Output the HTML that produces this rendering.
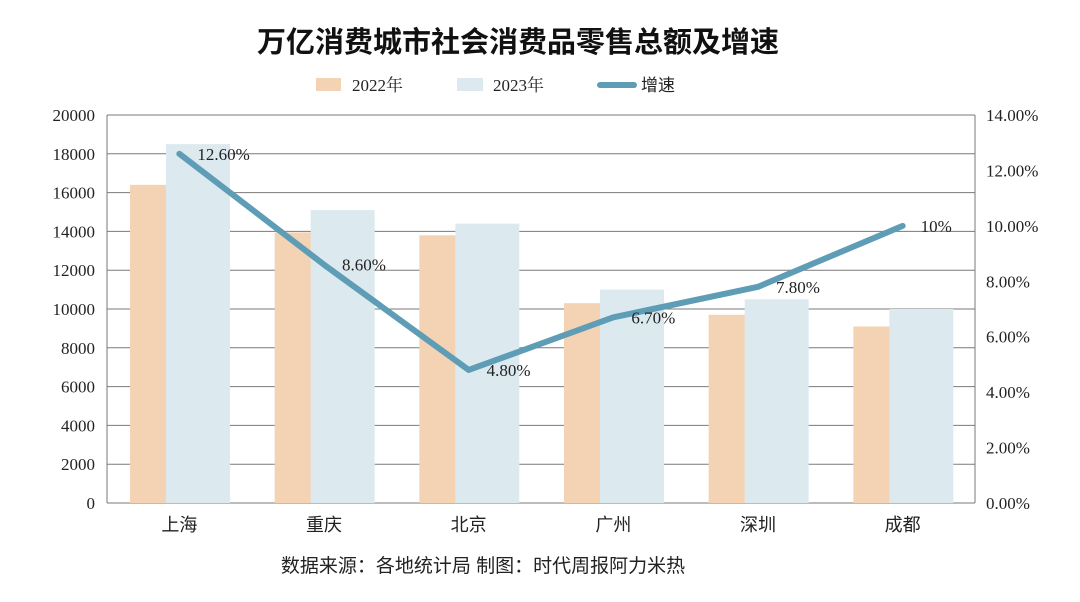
<!DOCTYPE html>
<html><head><meta charset="utf-8"><style>
html,body{margin:0;padding:0;background:#fff;}
svg{display:block;}
</style></head><body>
<svg id="chart" width="1080" height="602" xmlns="http://www.w3.org/2000/svg">
<text x="518" y="52" text-anchor="middle" font-family="'Liberation Sans','Noto Sans CJK SC',sans-serif" font-size="29" font-weight="bold" fill="#111">万亿消费城市社会消费品零售总额及增速</text>
<g>
<rect x="316" y="78" width="25" height="13" fill="#f4d3b5"/>
<text x="352" y="91" font-family="'Liberation Serif','Noto Serif CJK SC',serif" font-size="17" fill="#222">2022年</text>
<rect x="457" y="78" width="26" height="13" fill="#dceaf0"/>
<text x="493" y="91" font-family="'Liberation Serif','Noto Serif CJK SC',serif" font-size="17" fill="#222">2023年</text>
<line x1="600" y1="85" x2="634" y2="85" stroke="#5e9db5" stroke-width="6" stroke-linecap="round"/>
<text x="641" y="91" font-family="'Liberation Sans','Noto Sans CJK SC',sans-serif" font-size="17" fill="#222">增速</text>
</g>
<g id="grid"></g>
<g id="bars"></g>
<g id="line"></g>
<g id="axes"></g>
<text x="483" y="572" text-anchor="middle" font-family="'Liberation Sans','Noto Sans CJK SC',sans-serif" font-size="19" fill="#222">数据来源：各地统计局 制图：时代周报阿力米热</text>
</svg>
<script>
const categories = ["上海","重庆","北京","广州","深圳","成都"];
const sales2022 = [16400,13950,13800,10300,9700,9100];
const sales2023 = [18500,15100,14400,11000,10500,10000];
const growth = [12.6,8.6,4.8,6.7,7.8,10.0];
const growthLabels = ["12.60%","8.60%","4.80%","6.70%","7.80%","10%"];
const leftTicks = [0,2000,4000,6000,8000,10000,12000,14000,16000,18000,20000];
const rightTicks = [0,2,4,6,8,10,12,14];

const NS="http://www.w3.org/2000/svg";
const L=107,R=975,T=115,B=503;
const bw=(R-L)/categories.length;
const yL=v=>B-(v/20000)*(B-T);
const yR=v=>B-(v/14)*(B-T);
const xC=i=>L+bw*(i+0.5);
function mk(tag,attrs,parent,text){const e=document.createElementNS(NS,tag);for(const k in attrs)e.setAttribute(k,attrs[k]);if(text!==undefined)e.textContent=text;document.getElementById(parent).appendChild(e);return e;}
const serif="'Liberation Serif','Noto Serif CJK SC',serif";
const sans="'Liberation Sans','Noto Sans CJK SC',sans-serif";

leftTicks.forEach(v=>{
  const g=mk('line',{x1:L,x2:R,y1:yL(v),y2:yL(v),stroke:'#7a7a7a','stroke-width':1},'grid');
  
  
  const t=mk('text',{x:95,y:yL(v)+6,'text-anchor':'end','font-family':serif,'font-size':17,fill:'#222'},'axes',String(v));
  
  
});
rightTicks.forEach(v=>{
  const t=mk('text',{x:986,y:yR(v)+6,'font-family':serif,'font-size':17,fill:'#222'},'axes',v.toFixed(2)+'%');
  
  
});
let ax=mk('line',{x1:L,x2:L,y1:T,y2:B,stroke:'#7a7a7a','stroke-width':1},'axes');


ax=mk('line',{x1:R,x2:R,y1:T,y2:B,stroke:'#7a7a7a','stroke-width':1},'axes');



categories.forEach((c,i)=>{
  const x0=L+bw*i;
  const b1=mk('rect',{x:x0+23,y:yL(sales2022[i]),width:64,height:B-yL(sales2022[i]),fill:'#f4d3b5'},'bars');
  
  
  const b2=mk('rect',{x:x0+59,y:yL(sales2023[i]),width:64,height:B-yL(sales2023[i]),fill:'#dceaf0'},'bars');
  
  
  const t=mk('text',{x:xC(i),y:531,'text-anchor':'middle','font-family':sans,'font-size':18,fill:'#222'},'axes',c);
  
  
});

const pts=growth.map((g,i)=>xC(i)+','+yR(g)).join(' ');
const pl=mk('polyline',{points:pts,fill:'none',stroke:'#5e9db5','stroke-width':6,'stroke-linejoin':'round','stroke-linecap':'round'},'line');


growth.forEach((g,i)=>{
  const t=mk('text',{x:xC(i)+18,y:yR(g)+6,'font-family':serif,'font-size':17,fill:'#222'},'line',growthLabels[i]);
  
  
});
</script>
</body></html>
